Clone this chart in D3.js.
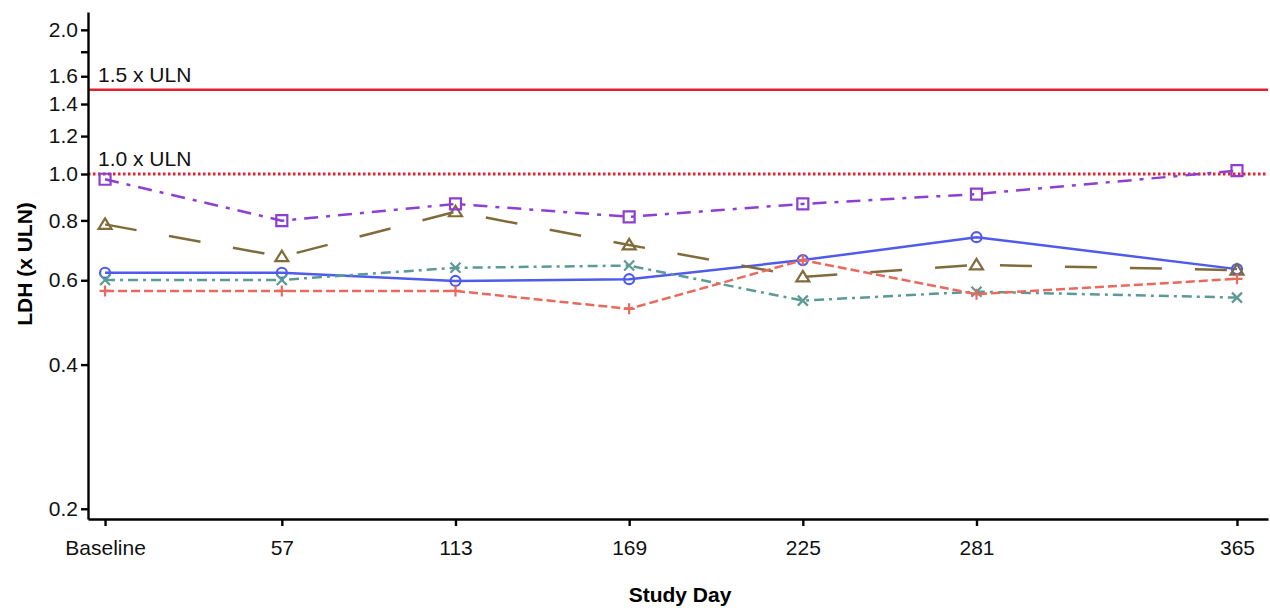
<!DOCTYPE html>
<html>
<head>
<meta charset="utf-8">
<script src="https://cdn.jsdelivr.net/npm/d3@7"></script>
<style>
  body { margin: 0; background: #fff; }
  svg { display: block; font-family: "Liberation Sans", Arial, sans-serif; }
  .axis path, .axis line { stroke: #000; stroke-width: 2.4; }
  .axis text { font-size: 21px; fill: #111; }
</style>
</head>
<body>
<div id="chart"></div>
<script>
// study days + tick labels
const days = [0, 57, 113, 169, 225, 281, 365];
const dayLabels = ["Baseline", "57", "113", "169", "225", "281", "365"];

// LDH (x ULN) per visit
const blueCircle   = [0.622, 0.622, 0.598, 0.603, 0.661, 0.738, 0.633];
const redPlus      = [0.570, 0.570, 0.570, 0.523, 0.661, 0.561, 0.604];
const tealCross    = [0.601, 0.601, 0.637, 0.644, 0.544, 0.568, 0.552];
const brownTri     = [0.785, 0.672, 0.834, 0.711, 0.610, 0.646, 0.630];
const purpleSquare = [0.975, 0.799, 0.866, 0.814, 0.866, 0.908, 1.016];

const yTicks = [0.2, 0.4, 0.6, 0.8, 1.0, 1.2, 1.4, 1.6, 1.8, 2.0];
const yTickHidden = [1.8];
const refLines = [1.5, 1.0];
const refLabels = ["1.5 x ULN", "1.0 x ULN"];

//****************************************************************************
// svg + scales

const canvWidth = 1270;
const canvHeight = 608;
const plot = {left: 88, right: 1268, top: 12, bottom: 519};

const svg = d3.select("#chart").append("svg")
  .attr("width", canvWidth)
  .attr("height", canvHeight);

const xScale = d3.scaleLinear().domain([-5.5, 375]).range([plot.left, plot.right]);
const yScale = d3.scaleLog().domain([0.1904, 2.179]).range([plot.bottom, plot.top]);

//****************************************************************************
// reference lines

const refColor = "#e41e2f";
refLines.forEach((v, i) => {
  svg.append("line")
    .attr("x1", plot.left).attr("x2", plot.right)
    .attr("y1", yScale(v)).attr("y2", yScale(v))
    .attr("stroke", refColor)
    .attr("stroke-width", v === 1.0 ? 3 : 2.5)
    .attr("stroke-dasharray", v === 1.0 ? "2.5,2.5" : null);
  svg.append("text")
    .attr("x", plot.left + 10)
    .attr("y", yScale(v) - 8)
    .attr("font-size", 21)
    .attr("fill", "#111")
    .text(refLabels[i]);
});

//****************************************************************************
// axes

const xAxis = d3.axisBottom(xScale)
  .tickValues(days)
  .tickFormat((d, i) => dayLabels[i])
  .tickSize(7)
  .tickSizeOuter(0)
  .tickPadding(14);

svg.append("g")
  .attr("class", "axis")
  .attr("transform", `translate(0,${plot.bottom})`)
  .call(xAxis);

const yAxis = d3.axisLeft(yScale)
  .tickValues(yTicks)
  .tickFormat(d => yTickHidden.includes(d) ? "" : d3.format(".1f")(d))
  .tickSize(7)
  .tickSizeOuter(0)
  .tickPadding(3);

svg.append("g")
  .attr("class", "axis")
  .attr("transform", `translate(${plot.left},0)`)
  .call(yAxis);

// axis labels
svg.append("text")
  .attr("x", (plot.left + plot.right) / 2 + 2)
  .attr("y", 602)
  .attr("text-anchor", "middle")
  .attr("font-size", 21)
  .attr("font-weight", "bold")
  .text("Study Day");

svg.append("text")
  .attr("transform", `translate(32,264) rotate(-90)`)
  .attr("text-anchor", "middle")
  .attr("font-size", 21)
  .attr("font-weight", "bold")
  .text("LDH (x ULN)");

//****************************************************************************
// series

const series = [
  {values: blueCircle,   color: "#4f5bea", dash: null,          marker: "circle"},
  {values: tealCross,    color: "#5b9a97", dash: "10,5,3,5",    marker: "x"},
  {values: brownTri,     color: "#806b3b", dash: "32,33",       marker: "triangle"},
  {values: purpleSquare, color: "#8c3fd1", dash: "14,8,4,8",    marker: "square"},
  {values: redPlus,      color: "#e86a5f", dash: "9,4",         marker: "plus"}
];

const markerPath = (type) => {
  switch (type) {
    case "circle":   return "M5,0A5,5 0 1,1 -5,0A5,5 0 1,1 5,0Z";
    case "plus":     return "M-5.5,0H5.5M0,-5.5V5.5";
    case "x":        return "M-5,-5L5,5M-5,5L5,-5";
    case "triangle": return "M0,-6L6.5,4.5H-6.5Z";
    case "square":   return "M-5.5,-5.5H5.5V5.5H-5.5Z";
  }
};

const line = d3.line()
  .x((d, i) => xScale(days[i]))
  .y(d => yScale(d));

series.forEach(s => {
  const g = svg.append("g");
  g.append("path")
    .attr("d", line(s.values))
    .attr("fill", "none")
    .attr("stroke", s.color)
    .attr("stroke-width", 2.5)
    .attr("stroke-dasharray", s.dash);
  g.selectAll("path.marker")
    .data(s.values)
    .enter().append("path")
    .attr("class", "marker")
    .attr("transform", (d, i) => `translate(${xScale(days[i])},${yScale(d)})`)
    .attr("d", markerPath(s.marker))
    .attr("fill", "none")
    .attr("stroke", s.color)
    .attr("stroke-width", 2.2);
});
</script>
</body>
</html>
